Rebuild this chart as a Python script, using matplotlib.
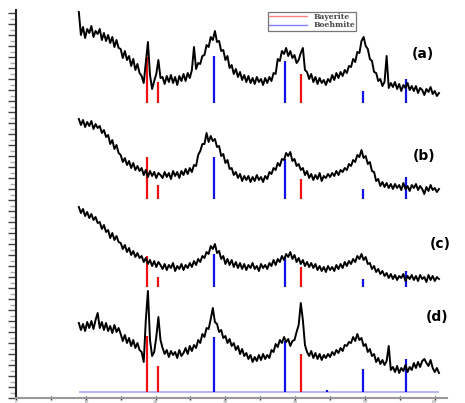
import numpy as np
import matplotlib
matplotlib.use("Agg")
import matplotlib.pyplot as plt
from matplotlib.ticker import MultipleLocator

# 2theta grid of the scans (degrees)
two_theta = np.round(np.arange(9.0, 60.61, 0.3), 2)

# intensities (a.u.) of each scan, relative to its own baseline
scan_a = [91, 68, 76, 65, 74, 70, 77, 66, 72, 69,
          74, 63, 70, 62, 68, 60, 66, 56, 63, 55,
          54, 45, 52, 43, 47, 37, 44, 33, 39, 30,
          27, 20, 41, 61, 28, 14, 22, 29, 43, 25,
          26, 19, 27, 21, 28, 20, 26, 18, 27, 22,
          29, 22, 30, 25, 33, 56, 34, 40, 39, 47,
          48, 58, 56, 66, 63, 72, 61, 62, 52, 53,
          43, 47, 35, 38, 29, 34, 26, 31, 23, 28,
          21, 27, 20, 25, 19, 26, 21, 24, 18, 25,
          20, 26, 22, 30, 29, 44, 42, 52, 49, 55,
          47, 52, 45, 48, 40, 43, 50, 55, 33, 31,
          24, 29, 21, 26, 19, 25, 20, 23, 18, 24,
          21, 28, 23, 30, 25, 31, 27, 33, 30, 37,
          36, 44, 41, 51, 50, 62, 66, 57, 54, 44,
          42, 31, 30, 22, 24, 17, 21, 47, 15, 20,
          16, 21, 14, 19, 12, 18, 15, 20, 13, 17,
          12, 17, 10, 15, 13, 8, 14, 11, 16, 9,
          12, 7, 10]
scan_b = [80, 74, 79, 72, 77, 73, 78, 70, 75, 71,
          73, 66, 69, 62, 64, 55, 59, 50, 54, 46,
          44, 37, 41, 34, 38, 31, 36, 29, 33, 28,
          31, 24, 29, 22, 28, 23, 27, 21, 26, 24,
          21, 27, 22, 26, 20, 28, 23, 27, 21, 28,
          24, 30, 25, 31, 27, 34, 33, 44, 48, 55,
          55, 66, 57, 63, 58, 60, 52, 53, 43, 45,
          36, 39, 30, 31, 24, 27, 21, 25, 18, 23,
          19, 23, 17, 22, 18, 24, 19, 22, 17, 23,
          20, 27, 25, 31, 29, 36, 33, 40, 39, 46,
          43, 47, 38, 40, 33, 35, 29, 31, 24, 28,
          21, 25, 19, 24, 20, 26, 18, 23, 21, 25,
          22, 26, 23, 28, 24, 29, 27, 31, 29, 35,
          33, 39, 37, 44, 42, 49, 41, 43, 35, 37,
          28, 27, 18, 20, 13, 17, 12, 16, 11, 15,
          10, 15, 11, 14, 9, 16, 10, 13, 8, 14,
          11, 15, 9, 13, 10, 5, 12, 8, 14, 9,
          11, 7, 10]
scan_c = [80, 74, 78, 71, 75, 69, 73, 67, 70, 64,
          65, 58, 62, 55, 57, 49, 54, 47, 51, 45,
          44, 38, 42, 35, 39, 32, 36, 30, 34, 29,
          31, 25, 29, 23, 27, 21, 26, 20, 25, 22,
          18, 23, 17, 22, 19, 24, 16, 21, 18, 23,
          17, 22, 19, 24, 20, 26, 22, 28, 25, 31,
          29, 35, 33, 41, 38, 43, 34, 36, 28, 31,
          23, 28, 22, 27, 20, 25, 19, 24, 18, 23,
          17, 22, 19, 24, 18, 21, 16, 23, 19, 22,
          18, 24, 21, 27, 22, 28, 25, 31, 27, 33,
          30, 35, 28, 32, 25, 29, 23, 27, 21, 25,
          20, 24, 19, 23, 17, 21, 16, 20, 15, 21,
          17, 20, 16, 22, 18, 23, 19, 25, 21, 26,
          23, 28, 25, 31, 28, 33, 27, 30, 23, 24,
          18, 21, 15, 18, 13, 16, 11, 14, 9, 13,
          8, 12, 7, 11, 9, 13, 6, 11, 8, 12,
          7, 11, 6, 12, 8, 10, 5, 12, 7, 11,
          6, 10, 8]
scan_d = [69, 62, 68, 61, 70, 64, 71, 63, 72, 79,
          64, 70, 62, 69, 61, 66, 59, 67, 60, 64,
          58, 51, 57, 49, 54, 46, 52, 44, 49, 42,
          40, 30, 72, 101, 52, 36, 40, 55, 75, 52,
          44, 38, 42, 35, 41, 37, 40, 34, 42, 36,
          39, 44, 38, 46, 41, 47, 44, 52, 49, 58,
          55, 64, 63, 73, 84, 70, 68, 60, 62, 54,
          56, 49, 53, 46, 49, 42, 46, 38, 43, 36,
          39, 33, 37, 30, 35, 31, 37, 32, 38, 33,
          37, 34, 42, 40, 48, 45, 52, 49, 55, 50,
          53, 46, 51, 52, 60, 67, 89, 72, 47, 40,
          36, 41, 34, 39, 33, 38, 32, 37, 34, 38,
          35, 40, 37, 42, 39, 44, 41, 47, 46, 50,
          49, 55, 51, 58, 52, 54, 46, 48, 40, 43,
          36, 38, 30, 34, 28, 32, 27, 31, 46, 22,
          25, 20, 26, 19, 24, 21, 27, 20, 25, 22,
          29, 24, 30, 25, 31, 33, 29, 26, 32, 24,
          20, 24, 19]

# reference patterns
bayerite_pos = [18.8, 20.3, 40.8]
boehmite_pos = [28.3, 38.6, 49.7, 55.9]
boehmite_pos_d = [28.3, 38.6, 44.6, 49.7, 55.9]
bay_a, boe_a = [46, 21, 29], [47, 42, 12, 24]
bay_b, boe_b = [42, 14, 20], [42, 40, 10, 22]
bay_c, boe_c = [31, 10, 20], [33, 30, 8, 16]
bay_d, boe_d = [56, 26, 38], [55, 51, 2, 23, 33]

labels = ["(a)", "(b)", "(c)", "(d)"]
offsets = [295, 199, 111, 6]
label_pos = [(58.3, 344), (58.5, 242), (60.8, 154), (60.3, 81)]

fig = plt.figure(figsize=(4.65, 4.03), dpi=100)
ax = fig.add_axes([16 / 465, 5 / 403, 431 / 465, 388 / 403])

panels = [(scan_a, bay_a, boe_a, boehmite_pos),
          (scan_b, bay_b, boe_b, boehmite_pos),
          (scan_c, bay_c, boe_c, boehmite_pos),
          (scan_d, bay_d, boe_d, boehmite_pos_d)]

for k, (scan, bay, boe, boe_pos) in enumerate(panels):
    off = offsets[k]
    ax.vlines(bayerite_pos, off, off + np.array(bay), color="#f01010", lw=1.6, zorder=2)
    ax.vlines(boe_pos, off, off + np.array(boe), color="#1010e8", lw=1.6, zorder=2)
    ax.plot(two_theta, np.array(scan) + off, color="black", lw=1.4, zorder=3)
    ax.text(label_pos[k][0], label_pos[k][1], labels[k], fontsize=10, fontweight="bold",
            ha="center", va="center", clip_on=False)

# faint baseline under the last pattern
ax.hlines(offsets[3], two_theta[0], two_theta[-1], color="#a8a8ff", lw=1.2, zorder=1)

# legend
ax.plot([], [], color="#ff8080", lw=1, label="Bayerite")
ax.plot([], [], color="#8080ff", lw=1, label="Boehmite")
leg = ax.legend(loc="upper left", bbox_to_anchor=(0.585, 0.995),
                prop={"family": "DejaVu Serif", "size": 5.5, "weight": "bold"},
                frameon=True, fancybox=False, handlelength=5, handletextpad=0.8,
                borderpad=0.15, labelspacing=0.05, borderaxespad=0)
leg.get_frame().set_edgecolor("#555555")
leg.get_frame().set_linewidth(0.9)
for t in leg.get_texts():
    t.set_color("#444444")

ax.set_xlim(0, 61.75)
ax.set_ylim(0, 388)
ax.xaxis.set_major_locator(MultipleLocator(10))
ax.xaxis.set_minor_locator(MultipleLocator(5))
ax.yaxis.set_major_locator(MultipleLocator(11))
ax.yaxis.set_minor_locator(MultipleLocator(5.5))
ax.set_yticklabels([])
ax.tick_params(axis="x", which="both", direction="inout", length=3, width=1,
               color="#333333", labelsize=3.2, labelcolor="#888888", pad=0.2)
ax.tick_params(axis="y", which="major", direction="out", length=6, width=1, color="#444444")
ax.tick_params(axis="y", which="minor", direction="out", length=4, width=1, color="#aaaaaa")

for s in ["top", "right"]:
    ax.spines[s].set_visible(False)
ax.spines["left"].set_color("#222222")
ax.spines["left"].set_linewidth(1.5)
ax.spines["bottom"].set_color("#999999")
ax.spines["bottom"].set_linewidth(1.5)

fig.savefig("out.png", dpi=100)
